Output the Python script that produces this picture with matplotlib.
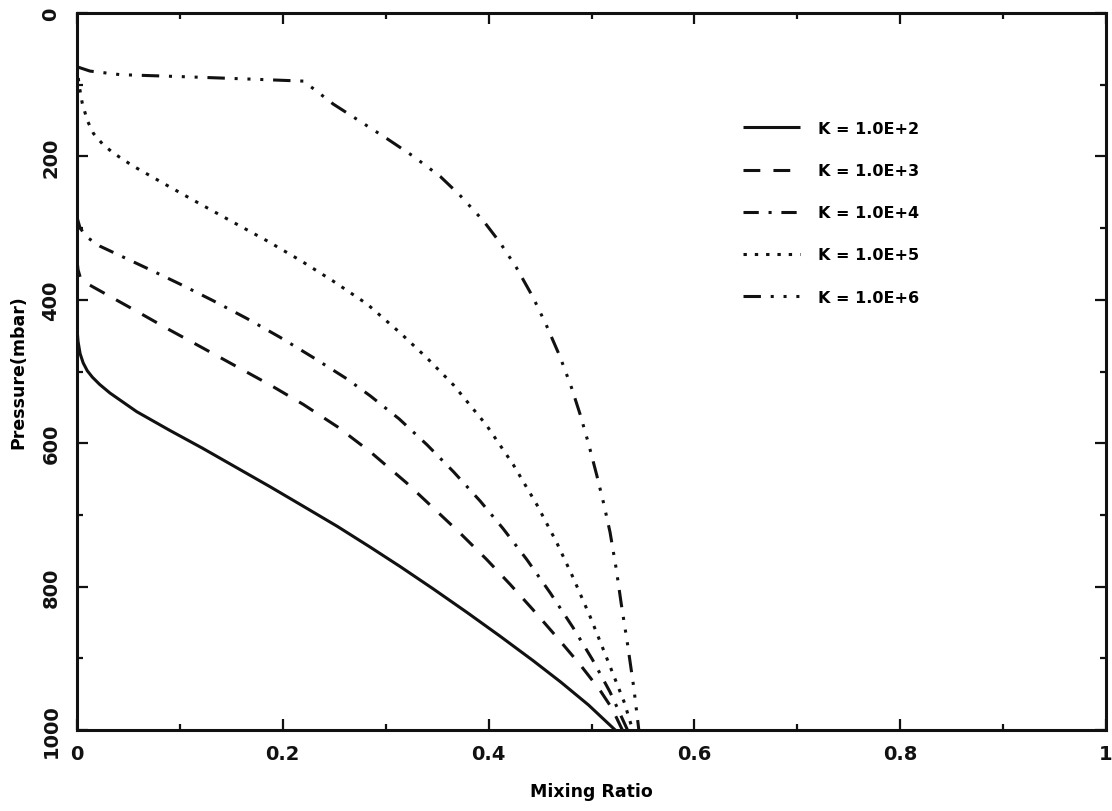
import matplotlib
matplotlib.use("Agg")
import matplotlib.pyplot as plt
from matplotlib.ticker import MultipleLocator

# ---- data ----
labels = ["K = 1.0E+2", "K = 1.0E+3", "K = 1.0E+4", "K = 1.0E+5", "K = 1.0E+6"]

x_k2 = [0.0, 0.001, 0.003, 0.006, 0.010, 0.015, 0.022, 0.032, 0.045, 0.058, 0.09, 0.122,
        0.155, 0.188, 0.22, 0.253, 0.285, 0.314, 0.346, 0.379, 0.411, 0.443, 0.47, 0.497, 0.523]
p_k2 = [440, 458, 475, 488, 499, 508, 518, 530, 543, 556, 582, 607,
        634, 661, 688, 716, 745, 772, 803, 836, 869, 903, 933, 965, 1000]

x_k3 = [0.0, 0.001, 0.003, 0.007, 0.0155, 0.058, 0.09, 0.122, 0.155, 0.188, 0.22, 0.253,
        0.285, 0.32, 0.346, 0.372, 0.398, 0.421, 0.443, 0.466, 0.489, 0.508, 0.52, 0.53]
p_k3 = [345, 358, 368, 375, 382, 416, 442, 467, 493, 519, 546, 577,
        612, 655, 690, 725, 762, 797, 832, 870, 909, 944, 970, 1000]

x_k4 = [0.0, 0.003, 0.01, 0.022, 0.071, 0.1, 0.132, 0.165, 0.197, 0.229, 0.262, 0.285,
        0.313, 0.34, 0.366, 0.392, 0.414, 0.437, 0.46, 0.482, 0.501, 0.518, 0.535]
p_k4 = [285, 300, 313, 325, 358, 378, 401, 426, 452, 480, 510, 534,
        566, 602, 640, 681, 719, 762, 809, 857, 902, 947, 1000]

x_k5 = [0.0, 0.002, 0.005, 0.01, 0.016, 0.025, 0.035, 0.054, 0.087, 0.113, 0.152, 0.185,
        0.217, 0.249, 0.282, 0.314, 0.34, 0.366, 0.398, 0.424, 0.447, 0.466, 0.482,
        0.499, 0.511, 0.521, 0.532, 0.54]
p_k5 = [75, 100, 125, 150, 168, 183, 195, 213, 240, 261, 292, 318,
        345, 374, 406, 446, 481, 519, 575, 630, 686, 738, 787,
        843, 886, 922, 962, 1000]

x_k6 = [0.0, 0.0126, 0.042, 0.107, 0.165, 0.22, 0.232, 0.249, 0.275, 0.301, 0.327, 0.353,
        0.372, 0.395, 0.411, 0.427, 0.443, 0.456, 0.469, 0.48, 0.489, 0.497, 0.505, 0.512,
        0.518, 0.524, 0.529, 0.535, 0.541, 0.546]
p_k6 = [75, 81, 86, 89, 92, 95, 108, 127, 151, 175, 200, 228,
        254, 290, 320, 355, 396, 435, 478, 520, 560, 600, 644, 685,
        724, 775, 825, 880, 940, 1000]

series_x = [x_k2, x_k3, x_k4, x_k5, x_k6]
series_p = [p_k2, p_k3, p_k4, p_k5, p_k6]

x_ticks = [0, 0.2, 0.4, 0.6, 0.8, 1]
x_ticklabels = ["0", "0.2", "0.4", "0.6", "0.8", "1"]
y_ticks = [0, 200, 400, 600, 800, 1000]
y_ticklabels = ["0", "200", "400", "600", "800", "1000"]

# ---- styles ----
styles = [
    "-",
    (0, (5.5, 4.3)),
    (0, (5.0, 3.2, 1.0, 3.2)),
    (0, (1.1, 2.6)),
    (0, (5.7, 3.2, 1.0, 3.2, 1.0, 3.2, 1.0, 3.2)),
]

plt.rcParams["font.family"] = ["DejaVu Sans"]
plt.rcParams["font.weight"] = "bold"

fig = plt.figure(figsize=(11.12, 8.12), dpi=100)
ax = fig.add_axes([77 / 1112, 1 - 731 / 812, (1106 - 77) / 1112, (731 - 14) / 812])

lw = 2.2
for xs, ps, ls, lab in zip(series_x, series_p, styles, labels):
    ax.plot(xs, ps, color="#111111", linestyle=ls, linewidth=lw, label=lab,
            solid_capstyle="butt", dash_capstyle="butt", solid_joinstyle="round")

ax.set_xlim(0, 1)
ax.set_ylim(1000, 0)

ax.set_xticks(x_ticks)
ax.set_xticklabels(x_ticklabels)
ax.set_yticks(y_ticks)
ax.set_yticklabels(y_ticklabels, rotation=90, va="center")
ax.xaxis.set_minor_locator(MultipleLocator(0.1))
ax.yaxis.set_minor_locator(MultipleLocator(100))

ax.tick_params(which="both", direction="in", top=True, right=True, width=1.6, colors="#111111")
ax.tick_params(which="major", length=8)
ax.tick_params(which="minor", length=4)
ax.tick_params(axis="x", which="major", pad=10, labelsize=14)
ax.tick_params(axis="y", which="major", pad=12, labelsize=14)
for lab in ax.get_xticklabels() + ax.get_yticklabels():
    lab.set_fontweight("bold")

for sp in ax.spines.values():
    sp.set_linewidth(2.2)
    sp.set_color("#111111")

ax.set_xlabel("Mixing Ratio", fontsize=12.5, fontweight="bold", labelpad=14)
ax.set_ylabel("Pressure(mbar)", fontsize=12.5, fontweight="bold", labelpad=10)

leg = ax.legend(loc="upper left", bbox_to_anchor=(735 / 1112, 1 - 114 / 812),
                bbox_transform=fig.transFigure, frameon=False,
                prop={"weight": "bold", "size": 11.5},
                handlelength=3.6, handletextpad=1.1, labelspacing=1.7, borderpad=0)

fig.savefig("out.png", dpi=100, facecolor="white")
